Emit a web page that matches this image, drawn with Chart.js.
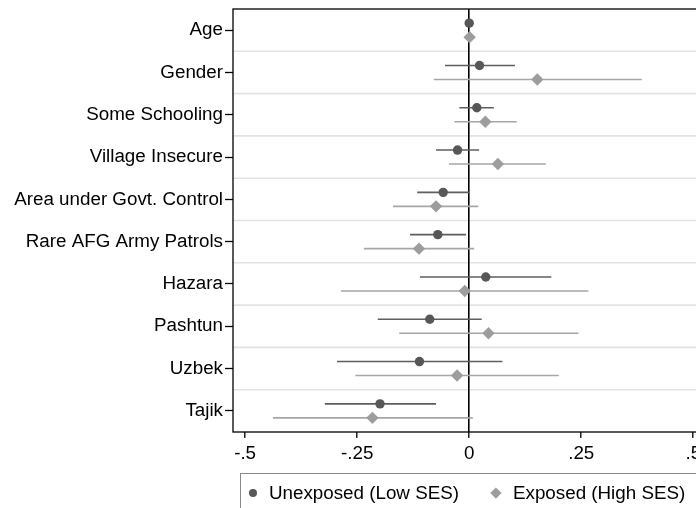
<!DOCTYPE html>
<html>
<head>
<meta charset="utf-8">
<script src="https://cdn.jsdelivr.net/npm/chart.js@4.4.1/dist/chart.umd.min.js"></script>
<style>
    html, body { margin: 0; padding: 0; background: #fff; overflow: hidden; }
    #wrap { position: absolute; left: 0; top: 0; width: 720px; height: 540px; }
    #legend {
        position: absolute; left: 239.5px; top: 473px; width: 600px; height: 80px;
        border: 1px solid #8a8a8a; box-sizing: border-box;
        font-family: "Liberation Sans", Arial, Helvetica, sans-serif; font-size: 18.8px; color: #000;
    }
    #legend .item { position: absolute; top: 0; height: 38px; display: flex; align-items: center; white-space: nowrap; }
    #legend .mark { display: inline-block; }
</style>
</head>
<body>
<div id="wrap"><canvas id="coefChart" width="720" height="540"></canvas></div>
<div id="legend"></div>
<script>
// Coefficient plot data
const categories = ['Age', 'Gender', 'Some Schooling', 'Village Insecure', 'Area under Govt. Control',
    'Rare AFG Army Patrols', 'Hazara', 'Pashtun', 'Uzbek', 'Tajik'];

// Unexposed (Low SES)
const lowEst = [0.000, 0.023, 0.017, -0.026, -0.058, -0.070, 0.037, -0.088, -0.111, -0.199];
const lowLo  = [-0.003, -0.054, -0.022, -0.074, -0.116, -0.132, -0.110, -0.204, -0.295, -0.322];
const lowHi  = [0.003, 0.102, 0.055, 0.022, 0.000, -0.007, 0.183, 0.028, 0.074, -0.074];

// Exposed (High SES)
const highEst = [0.001, 0.152, 0.036, 0.064, -0.074, -0.112, -0.010, 0.043, -0.027, -0.216];
const highLo  = [-0.002, -0.079, -0.033, -0.045, -0.170, -0.235, -0.286, -0.156, -0.254, -0.438];
const highHi  = [0.004, 0.385, 0.106, 0.171, 0.020, 0.011, 0.266, 0.244, 0.200, 0.008];

const xTicks = [-0.5, -0.25, 0, 0.25, 0.5];
const seriesNames = ['Unexposed (Low SES)', 'Exposed (High SES)'];

const FONT_SIZE = 18.8;
Chart.defaults.font.family = '"Liberation Sans", Arial, Helvetica, sans-serif';
Chart.defaults.font.size = FONT_SIZE;
Chart.defaults.color = '#000';

function buildPoints(est, lo, hi, shift) {
    return est.map((v, i) => ({ x: v, y: i + 1 + shift, lo: lo[i], hi: hi[i] }));
}

// horizontal separators between categories
const rowLines = {
    id: 'rowLines',
    beforeDraw(chart) {
        const { ctx, chartArea, scales } = chart;
        ctx.save();
        ctx.strokeStyle = '#e3e3e3';
        ctx.lineWidth = 1.6;
        for (let i = 1; i < categories.length; i++) {
            const y = scales.y.getPixelForValue(i + 0.5);
            ctx.beginPath();
            ctx.moveTo(chartArea.left, y);
            ctx.lineTo(chartArea.right, y);
            ctx.stroke();
        }
        ctx.restore();
    }
};

// confidence interval whiskers
const ciBars = {
    id: 'ciBars',
    beforeDatasetsDraw(chart) {
        const { ctx, scales } = chart;
        ctx.save();
        chart.data.datasets.forEach(ds => {
            ctx.strokeStyle = ds.ciColor;
            ctx.lineWidth = 1.6;
            ds.data.forEach(p => {
                const y = scales.y.getPixelForValue(p.y);
                ctx.beginPath();
                ctx.moveTo(scales.x.getPixelForValue(p.lo), y);
                ctx.lineTo(scales.x.getPixelForValue(p.hi), y);
                ctx.stroke();
            });
        });
        ctx.restore();
    }
};

// plot frame
const frame = {
    id: 'frame',
    afterDraw(chart) {
        const { ctx, chartArea } = chart;
        ctx.save();
        ctx.strokeStyle = '#000';
        ctx.lineWidth = 1.3;
        ctx.strokeRect(chartArea.left, chartArea.top, chartArea.right - chartArea.left, chartArea.bottom - chartArea.top);
        ctx.restore();
    }
};

const chart = new Chart(document.getElementById('coefChart').getContext('2d'), {
    type: 'scatter',
    data: {
        datasets: [{
            label: seriesNames[0],
            data: buildPoints(lowEst, lowLo, lowHi, -0.165),
            pointStyle: 'circle',
            radius: 4.7,
            backgroundColor: '#575757',
            borderWidth: 0,
            ciColor: '#5e5e5e'
        }, {
            label: seriesNames[1],
            data: buildPoints(highEst, highLo, highHi, 0.165),
            pointStyle: 'rectRot',
            radius: 6.2,
            backgroundColor: '#9d9d9d',
            borderWidth: 0,
            ciColor: '#a6a6a6'
        }]
    },
    options: {
        responsive: false,
        devicePixelRatio: 1,
        animation: false,
        layout: { padding: { top: 9, left: 0, right: 14.6, bottom: 68 } },
        plugins: {
            tooltip: { enabled: false },
            legend: { display: false }
        },
        scales: {
            x: {
                type: 'linear',
                min: -0.527,
                max: 0.527,
                afterBuildTicks: scale => { scale.ticks = xTicks.map(v => ({ value: v })); },
                afterFit: scale => {
                    scale.height = 40;
                    scale.paddingLeft = 0;
                    scale.paddingRight = 0;
                },
                ticks: {
                    padding: 5,
                    maxRotation: 0,
                    callback: v => v === 0 ? '0' : String(v).replace('0.', '.')
                },
                grid: {
                    color: ctx => (ctx.tick && ctx.tick.value === 0) ? '#000' : 'rgba(0,0,0,0)',
                    lineWidth: 1.6,
                    tickColor: '#000',
                    tickWidth: 1.3,
                    tickLength: 6
                },
                border: { display: false }
            },
            y: {
                type: 'linear',
                min: 0.5,
                max: 10.5,
                reverse: true,
                afterBuildTicks: scale => { scale.ticks = categories.map((c, i) => ({ value: i + 1 })); },
                afterFit: scale => {
                    scale.width = 233;
                    scale.paddingTop = 0;
                    scale.paddingBottom = 0;
                },
                ticks: {
                    padding: 2,
                    callback: v => categories[v - 1]
                },
                grid: {
                    drawOnChartArea: false,
                    tickColor: '#000',
                    tickWidth: 1.3,
                    tickLength: 8
                },
                border: { display: false }
            }
        }
    },
    plugins: [rowLines, ciBars, frame]
});

// HTML legend built from the datasets
const legendEl = document.getElementById('legend');
const legendPos = [{ mark: 8.2, text: 28.5 }, { mark: 251.5, text: 272.5 }];
chart.data.datasets.forEach((ds, i) => {
    const item = document.createElement('div');
    item.className = 'item';
    item.style.left = legendPos[i].mark + 'px';
    const mark = document.createElement('span');
    mark.className = 'mark';
    if (ds.pointStyle === 'circle') {
        mark.style.cssText = 'width:8.6px;height:8.6px;border-radius:50%;background:' + ds.backgroundColor;
    } else {
        mark.style.cssText = 'width:7.8px;height:7.8px;transform:rotate(45deg);background:' + ds.backgroundColor;
    }
    const label = document.createElement('span');
    label.textContent = ds.label;
    label.style.position = 'absolute';
    label.style.left = (legendPos[i].text - legendPos[i].mark) + 'px';
    item.appendChild(mark);
    item.appendChild(label);
    legendEl.appendChild(item);
});
</script>
</body>
</html>
